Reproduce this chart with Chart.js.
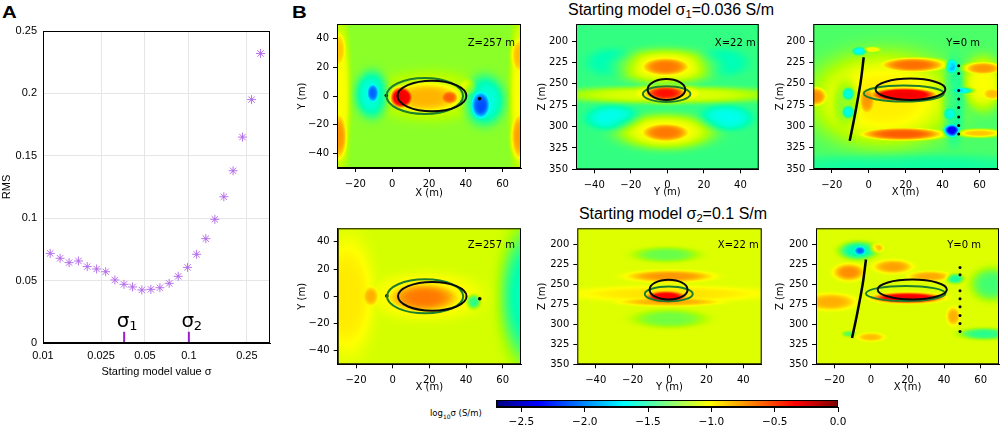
<!DOCTYPE html>
<html><head><meta charset="utf-8">
<script src="https://cdn.jsdelivr.net/npm/chart.js@4"></script>
<style>
body{margin:0;width:1003px;height:427px;position:relative;background:#fff;overflow:hidden;font-family:'DejaVu Sans',sans-serif;}
canvas{position:absolute;}
.lbl{position:absolute;white-space:nowrap;color:#000;}
.ttl{font:16px 'Liberation Sans',sans-serif;text-align:center;width:300px;}
.ttl sub{font-size:0.7em;vertical-align:-0.25em;}
</style></head><body>
<div class="lbl" style="left:2px;top:3px;font:bold 17px 'Liberation Sans';transform:scaleX(1.2);transform-origin:left;">A</div>
<div class="lbl" style="left:292px;top:3px;font:bold 17px 'Liberation Sans';transform:scaleX(1.2);transform-origin:left;">B</div>
<div class="lbl ttl" style="left:521px;top:1px;">Starting model σ<sub>1</sub>=0.036 S/m</div>
<div class="lbl ttl" style="left:523px;top:205px;">Starting model σ<sub>2</sub>=0.1 S/m</div>
<div class="lbl" style="left:430px;top:408px;font:8.5px 'DejaVu Sans';">log<sub style="font-size:0.7em">10</sub>σ (S/m)</div>

<canvas id="cA" width="285" height="390" style="left:0;top:0"></canvas>
<canvas id="cTL" width="235" height="200" style="left:290px;top:0"></canvas>
<canvas id="cTM" width="233" height="200" style="left:530px;top:0"></canvas>
<canvas id="cTR" width="235" height="200" style="left:768px;top:0"></canvas>
<canvas id="cBL" width="235" height="195" style="left:290px;top:200px"></canvas>
<canvas id="cBM" width="235" height="195" style="left:530px;top:200px"></canvas>
<canvas id="cBR" width="235" height="195" style="left:768px;top:200px"></canvas>
<canvas id="cCB" width="380" height="35" style="left:480px;top:392px"></canvas>

<script>
// ---------------- Panel A data ----------------
const sigmaValues = [0.0112, 0.0131, 0.0151, 0.0175, 0.0201, 0.0233, 0.0269, 0.0311, 0.0359, 0.0411, 0.0476, 0.0549, 0.0633, 0.0733, 0.0845, 0.098, 0.113, 0.1307, 0.1507, 0.1737, 0.201, 0.233, 0.269, 0.310];
const rmsValues   = [0.0718, 0.0679, 0.0644, 0.0657, 0.0612, 0.0593, 0.0571, 0.0505, 0.0470, 0.0449, 0.0425, 0.0430, 0.0443, 0.0478, 0.0534, 0.0606, 0.0711, 0.0836, 0.0991, 0.1172, 0.138, 0.165, 0.195, 0.232];
const xTicksA = [0.01, 0.025, 0.05, 0.1, 0.25];
const yTicksA = [0, 0.05, 0.1, 0.15, 0.2, 0.25];
const markerSigmas = [0.036, 0.1];
const markerSubs = ['1', '2'];
const markerTop = 0.009;

// ---------------- Panel B data (log10 sigma, S/m) ----------------
const colorMin = -2.7, colorMax = 0;
const colorbarTicks = [-2.5, -2.0, -1.5, -1.0, -0.5, 0.0];
const ticksX = [-20, 0, 20, 40, 60];
const ticksY = [-40, -20, 0, 20, 40];
const ticksZ = [200, 225, 250, 275, 300, 325, 350];

// anomaly blobs: [centre1, centre2, half-extent1, half-extent2, log10 sigma]
const baseTL = -1.25;
const blobsTL = [
 [-28,0,5,52,-1.02],[-29,-28,4.5,17,-0.8],[-29,32,4,13,-0.9],
 [69,0,5,52,-1.02],[69,-28,4.5,17,-0.82],[69,28,4.5,13,-0.88],
 [-10.5,2,3.5,7,-2.05],[-11,1,9,16,-1.65],
 [48,-6,5.5,10,-2.1],[50,-3,11,17,-1.65],
 [18.5,-1,21,11,-0.86],[5,-1,6,7,-0.3],[31,-1,5,5,-0.68],[41,6,5,6,-1.0],[20,0,30,17,-1.1]
];
const baseTM = -1.43;
const blobsTM = [
 [-1,230,15,12,-0.74],[-1,230,26,20,-1.0],
 [-1,307,15,12,-0.74],[-1,306,26,20,-1.0],
 [0,263,60,10,-1.08],[0,262,24,11,-0.95],[-1,261,12,9,-0.52],
 [-30,290,14,14,-1.65],[32,290,14,14,-1.65],
 [-30,225,14,16,-1.55],[30,225,14,16,-1.55]
];
const baseTR = -1.38;
const blobsTR = [
 [8,268,40,56,-0.98],[62,250,11,32,-1.02],
 [24,228,19,9,-0.72],[18,309,24,8,-0.68],[19,263,18,8,-0.3],
 [-29,265,7,12,-0.78],[-1,270,5,18,-0.8],[62,232,11,8,-0.8],[67,262,6,8,-0.88],[60,308,13,5,-0.9],
 [-11,262,3.5,8,-2.0],[-11,283,3.5,8,-2.0],[-12,272,7,26,-1.6],
 [45,305,4,7,-2.35],[45,230,3,8,-1.9],[51,258,6,3.5,-1.85],[44,285,3.5,8,-1.8],[46,270,6,48,-1.6],
 [-5,212,3.5,4.5,-1.8],[2,210,5,3.5,-1.0],[20,348,70,16,-1.5]
];
const baseBL = -1.1;
const blobsBL = [
 [-25,0,15,44,-0.97],[74,0,15,48,-1.56],[17,-1,18,10,-0.74],
 [-12,0,4,7,-0.85],[44,-4,3.5,5,-1.5],[18,0,30,17,-0.98]
];
const baseBM = -1.08;
const blobsBM = [
 [-2,213,17,9,-1.32],[0,293,19,11,-1.3],
 [0,240,22,7,-0.8],[0,272,26,5,-0.85],[-2,266,10,7,-0.38],[0,262,52,10,-0.96]
];
const baseBR = -1.08;
const blobsBR = [
 [-6,208,3.5,6,-2.0],[-7,208,10,11,-1.55],[3,205,3.5,5,-0.8],
 [-12,235,8,10,-0.78],[-22,272,13,10,-0.85],
 [12,228,10,8,-0.82],[32,240,11,6,-0.84],[20,267,17,6,-0.3],
 [46,243,4.5,6,-1.5],[66,250,11,20,-1.4],[62,312,13,7,-1.45],
 [45,290,3.5,11,-0.85],[-12,312,3.5,3.5,-1.35],[0,316,7,5,-0.88]
];

// target body outlines: [centre1, centre2, semi-axis1, semi-axis2]
const ellXYtrue = [21.6, 0, 18.7, 10.6];
const ellXYinv  = [17.7, 0, 20.8, 12.5];
const ellYZtrue = [-0.5, 256.7, 10.3, 12.3];
const ellYZinv  = [-0.4, 262, 13, 9.2];
const ellXZtrue = [22.6, 256.5, 18.9, 12.5];
const ellXZinv  = [19, 261.5, 21.7, 9.5];

// borehole trace and electrodes
const wellX = [-2.7, -4.5, -7.7, -10.3];
const wellZ = [219, 250, 289, 317];
const electrodeX = [48.7, 48.7, 48.7, 48.7, 48.7, 48.7, 48.7, 48.7];
const electrodeZ = [229, 238, 258, 268, 278, 289, 299, 309];
const surfDotX = [-3.2, 47.5];
const surfDotY = [0.3, -1.8];

// ---------------- helpers ----------------
Chart.defaults.font.family = "'DejaVu Sans', sans-serif";
Chart.defaults.color = '#000';

function clamp01(v){ return v < 0 ? 0 : (v > 1 ? 1 : v); }
function jet(t){
  t = clamp01(t);
  return [clamp01(1.5 - Math.abs(4*t-3))*255, clamp01(1.5 - Math.abs(4*t-2))*255, clamp01(1.5 - Math.abs(4*t-1))*255];
}
function vivid(c){
  const m = Math.max(c[0], c[1], c[2]);
  return c.map(v => Math.max(0, m - (m - v) * 1.3));
}
function fmtInt(v){ return v < 0 ? '\u2212' + Math.abs(v) : String(v); }
function fmt1(v){ const s = Math.abs(v).toFixed(1); return v < 0 ? '\u2212' + s : s; }

const framePlugin = {
  id: 'frame',
  afterDraw(chart){
    const {ctx, chartArea:a} = chart;
    ctx.save(); ctx.strokeStyle = '#000'; ctx.lineWidth = 1;
    ctx.strokeRect(a.left + 0.5, a.top + 0.5, a.right - a.left - 1, a.bottom - a.top - 1);
    ctx.restore();
  }
};

function fieldPlugin(base, blobs){
  return {
    id: 'field',
    beforeDatasetsDraw(chart){
      const {ctx, chartArea:a, scales:{x, y}} = chart;
      const w = Math.round(a.right - a.left), h = Math.round(a.bottom - a.top);
      const off = document.createElement('canvas'); off.width = w; off.height = h;
      const octx = off.getContext('2d');
      const img = octx.createImageData(w, h);
      for (let j = 0; j < h; j++){
        const yv = y.getValueForPixel(a.top + j + 0.5);
        for (let i = 0; i < w; i++){
          const xv = x.getValueForPixel(a.left + i + 0.5);
          let up = 0, dn = 0;
          for (const b of blobs){
            const dx = (xv - b[0]) / b[2], dy = (yv - b[1]) / b[3];
            const d = dx*dx + dy*dy;
            if (d > 6) continue;
            const dev = (b[4] - base) * Math.exp(-d*d);
            if (dev > up) up = dev; else if (dev < dn) dn = dev;
          }
          const c = vivid(jet((base + up + dn - colorMin) / (colorMax - colorMin)));
          const k = (j*w + i) * 4;
          img.data[k] = c[0]; img.data[k+1] = c[1]; img.data[k+2] = c[2]; img.data[k+3] = 255;
        }
      }
      octx.putImageData(img, 0, 0);
      ctx.drawImage(off, a.left, a.top, a.right - a.left, a.bottom - a.top);
    }
  };
}

function shapePlugin(p){
  return {
    id: 'shapes',
    afterDatasetsDraw(chart){
      const {ctx, chartArea:a, scales:{x, y}} = chart;
      ctx.save();
      ctx.beginPath(); ctx.rect(a.left, a.top, a.right - a.left, a.bottom - a.top); ctx.clip();
      const draw = (e, col) => {
        const cx = x.getPixelForValue(e[0]), cy = y.getPixelForValue(e[1]);
        const rx = Math.abs(x.getPixelForValue(e[0] + e[2]) - cx);
        const ry = Math.abs(y.getPixelForValue(e[1] + e[3]) - cy);
        ctx.beginPath(); ctx.ellipse(cx, cy, rx, ry, 0, 0, Math.PI*2);
        ctx.strokeStyle = col; ctx.lineWidth = 2; ctx.stroke();
      };
      draw(p.ellInv, '#1d7f2e');
      draw(p.ellTrue, '#0a0a0a');
      ctx.restore();
      ctx.save();
      ctx.font = "10px 'DejaVu Sans'"; ctx.fillStyle = '#000';
      ctx.textAlign = 'right'; ctx.textBaseline = 'middle';
      ctx.fillText(p.label, a.right - p.labelDx, a.top + p.labelDy);
      ctx.restore();
    }
  };
}

function heatChart(id, p){
  const datasets = [];
  if (p.curveX) datasets.push({type:'line', data:p.curveX.map((v,i)=>({x:v, y:p.curveY[i]})), borderColor:'#000', borderWidth:2.5, pointRadius:0, tension:0.35, fill:false});
  if (p.dotX) datasets.push({type:'scatter', data:p.dotX.map((v,i)=>({x:v, y:p.dotY[i]})), pointRadius:p.dotR, backgroundColor:'#000', borderWidth:0});
  return new Chart(document.getElementById(id), {
    type: 'scatter',
    data: {datasets},
    options: {
      responsive:false, animation:false, events:[],
      plugins:{legend:{display:false}, tooltip:{enabled:false}},
      layout:{padding:p.pad},
      scales:{
        x:{type:'linear', min:p.xr[0], max:p.xr[1],
           afterBuildTicks:s=>{ s.ticks = p.xt.map(v=>({value:v})); },
           ticks:{callback:fmtInt, font:{size:10}, color:'#000', padding:6, maxRotation:0, autoSkip:false},
           grid:{drawOnChartArea:false, drawTicks:true, tickLength:4, color:'#000'},
           border:{display:true, color:'#000'},
           title:{display:true, text:p.xTitle, font:{size:10}, color:'#000', padding:{top:0, bottom:0}},
           afterFit:s=>{ s.height = p.xh; }},
        y:{type:'linear', min:p.yr[0], max:p.yr[1], reverse:!!p.rev,
           afterBuildTicks:s=>{ s.ticks = p.yt.map(v=>({value:v})); },
           ticks:{callback:fmtInt, font:{size:10}, color:'#000', padding:4, autoSkip:false},
           grid:{drawOnChartArea:false, drawTicks:true, tickLength:4, color:'#000'},
           border:{display:true, color:'#000'},
           title:{display:true, text:p.yTitle, font:{size:10}, color:'#000', padding:{top:6, bottom:0}},
           afterFit:s=>{ s.width = p.yw; }}
      }
    },
    plugins:[fieldPlugin(p.base, p.blobs), shapePlugin(p), framePlugin]
  });
}

// ---------------- Panel A ----------------
const sigmaLabelPlugin = {
  id: 'sigmaLabels',
  afterDatasetsDraw(chart){
    const {ctx, scales:{x, y}} = chart;
    ctx.save(); ctx.fillStyle = '#000'; ctx.textBaseline = 'alphabetic';
    markerSigmas.forEach((s, i) => {
      const px = x.getPixelForValue(s), py = y.getPixelForValue(markerTop) - 5;
      ctx.font = "20px 'DejaVu Sans'"; ctx.textAlign = 'center';
      ctx.fillText('σ', px - 1, py);
      ctx.font = "13px 'DejaVu Sans'"; ctx.textAlign = 'left';
      ctx.fillText(markerSubs[i], px + 5, py + 3);
    });
    ctx.restore();
  }
};

const ptsA = sigmaValues.map((s, i) => ({x:s, y:rmsValues[i]}));
const markerSets = markerSigmas.map(s => ({type:'line', data:[{x:s, y:0}, {x:s, y:markerTop}], borderColor:'#9b1fd1', borderWidth:2, pointRadius:0, fill:false}));

new Chart(document.getElementById('cA'), {
  type:'scatter',
  data:{datasets:[
    {data:ptsA, pointStyle:'star', pointRadius:4.5, borderColor:'#b873ec', borderWidth:1, backgroundColor:'#b873ec'},
    {data:ptsA, pointStyle:'circle', pointRadius:1, backgroundColor:'#6a1f9a', borderWidth:0},
    ...markerSets
  ]},
  options:{
    responsive:false, animation:false, events:[],
    plugins:{legend:{display:false}, tooltip:{enabled:false}},
    layout:{padding:{left:0, right:15, top:31, bottom:0}},
    scales:{
      x:{type:'logarithmic', min:0.01, max:0.36,
         afterBuildTicks:s=>{ s.ticks = xTicksA.map(v=>({value:v})); },
         ticks:{callback:v=>String(v), font:{size:11, family:"'Liberation Sans'"}, color:'#000', padding:6.4, maxRotation:0, autoSkip:false},
         grid:{color:'#e6e6e6', drawTicks:false},
         border:{display:true, color:'#000'},
         title:{display:true, text:'Starting model value σ', font:{size:11, family:"'Liberation Sans'"}, color:'#000', padding:{top:0, bottom:11}},
         afterFit:s=>{ s.height = 47; }},
      y:{type:'linear', min:0, max:0.25,
         afterBuildTicks:s=>{ s.ticks = yTicksA.map(v=>({value:v})); },
         ticks:{callback:v=>String(+v.toFixed(3)), font:{size:11, family:"'Liberation Sans'"}, color:'#000', padding:6},
         grid:{color:'#e6e6e6', drawTicks:false},
         border:{display:true, color:'#000'},
         title:{display:true, text:'RMS', font:{size:11, family:"'Liberation Sans'"}, color:'#000', padding:{top:0, bottom:0}},
         afterFit:s=>{ s.width = 43; }}
    }
  },
  plugins:[sigmaLabelPlugin, framePlugin]
});

// ---------------- Panel B ----------------
const xyCommon = {xr:[-30,70], yr:[-50,50], xt:ticksX, yt:ticksY, xTitle:'X (m)', yTitle:'Y (m)', ellTrue:ellXYtrue, ellInv:ellXYinv, label:'Z=257 m', dotX:surfDotX, dotY:surfDotY, dotR:1.8};
const yzCommon = {xr:[-50,50], yr:[180,350], rev:true, xt:ticksY, yt:ticksZ, xTitle:'Y (m)', yTitle:'Z (m)', ellTrue:ellYZtrue, ellInv:ellYZinv, label:'X=22 m'};
const xzCommon = {xr:[-30,70], yr:[180,350], rev:true, xt:ticksX, yt:ticksZ, xTitle:'X (m)', yTitle:'Z (m)', ellTrue:ellXZtrue, ellInv:ellXZinv, label:'Y=0 m', curveX:wellX, curveY:wellZ, dotX:electrodeX, dotY:electrodeZ, dotR:1.5};

heatChart('cTL', Object.assign({}, xyCommon, {base:baseTL, blobs:blobsTL, pad:{left:0, right:4, top:24, bottom:1}, yw:47, xh:31, labelDx:6, labelDy:19}));
heatChart('cTM', Object.assign({}, yzCommon, {base:baseTM, blobs:blobsTM, pad:{left:0, right:4.3, top:24, bottom:1.3}, yw:46, xh:29.4, labelDx:3, labelDy:19}));
heatChart('cTR', Object.assign({}, xzCommon, {base:baseTR, blobs:blobsTR, pad:{left:0, right:5, top:24, bottom:1.3}, yw:45.3, xh:29.7, labelDx:18, labelDy:19}));
heatChart('cBL', Object.assign({}, xyCommon, {base:baseBL, blobs:blobsBL, pad:{left:0, right:3.3, top:28.3, bottom:1.7}, yw:47.7, xh:29, labelDx:6, labelDy:17.5}));
heatChart('cBM', Object.assign({}, yzCommon, {base:baseBM, blobs:blobsBM, pad:{left:0, right:3.3, top:28.3, bottom:1.7}, yw:47.3, xh:29, labelDx:3, labelDy:17.5}));
heatChart('cBR', Object.assign({}, xzCommon, {base:baseBR, blobs:blobsBR, pad:{left:0, right:3, top:28.3, bottom:1.7}, yw:48, xh:29, labelDx:18, labelDy:17.5}));

// ---------------- Colorbar ----------------
const colorbarPlugin = {
  id: 'colorbar',
  beforeDatasetsDraw(chart){
    const {ctx, chartArea:a, scales:{x}} = chart;
    ctx.save();
    for (let px = Math.floor(a.left); px < a.right; px++){
      const v = x.getValueForPixel(px + 0.5);
      const c = jet((v - colorMin) / (colorMax - colorMin));
      ctx.fillStyle = 'rgb(' + c.map(Math.round).join(',') + ')';
      ctx.fillRect(px, a.top, 1, a.bottom - a.top);
    }
    ctx.restore();
  }
};
new Chart(document.getElementById('cCB'), {
  type:'scatter',
  data:{datasets:[]},
  options:{
    responsive:false, animation:false, events:[],
    plugins:{legend:{display:false}, tooltip:{enabled:false}},
    layout:{padding:{left:16, right:22, top:8, bottom:0}},
    scales:{
      x:{type:'linear', min:colorMin, max:colorMax,
         afterBuildTicks:s=>{ s.ticks = colorbarTicks.map(v=>({value:v})); },
         ticks:{callback:fmt1, font:{size:10.5}, color:'#000', padding:3.7, maxRotation:0, autoSkip:false},
         grid:{drawOnChartArea:false, drawTicks:true, tickLength:5, color:'#000'},
         border:{display:true, color:'#000'},
         afterFit:s=>{ s.height = 20; }},
      y:{display:false, min:0, max:1}
    }
  },
  plugins:[colorbarPlugin, framePlugin]
});
</script>
</body></html>
